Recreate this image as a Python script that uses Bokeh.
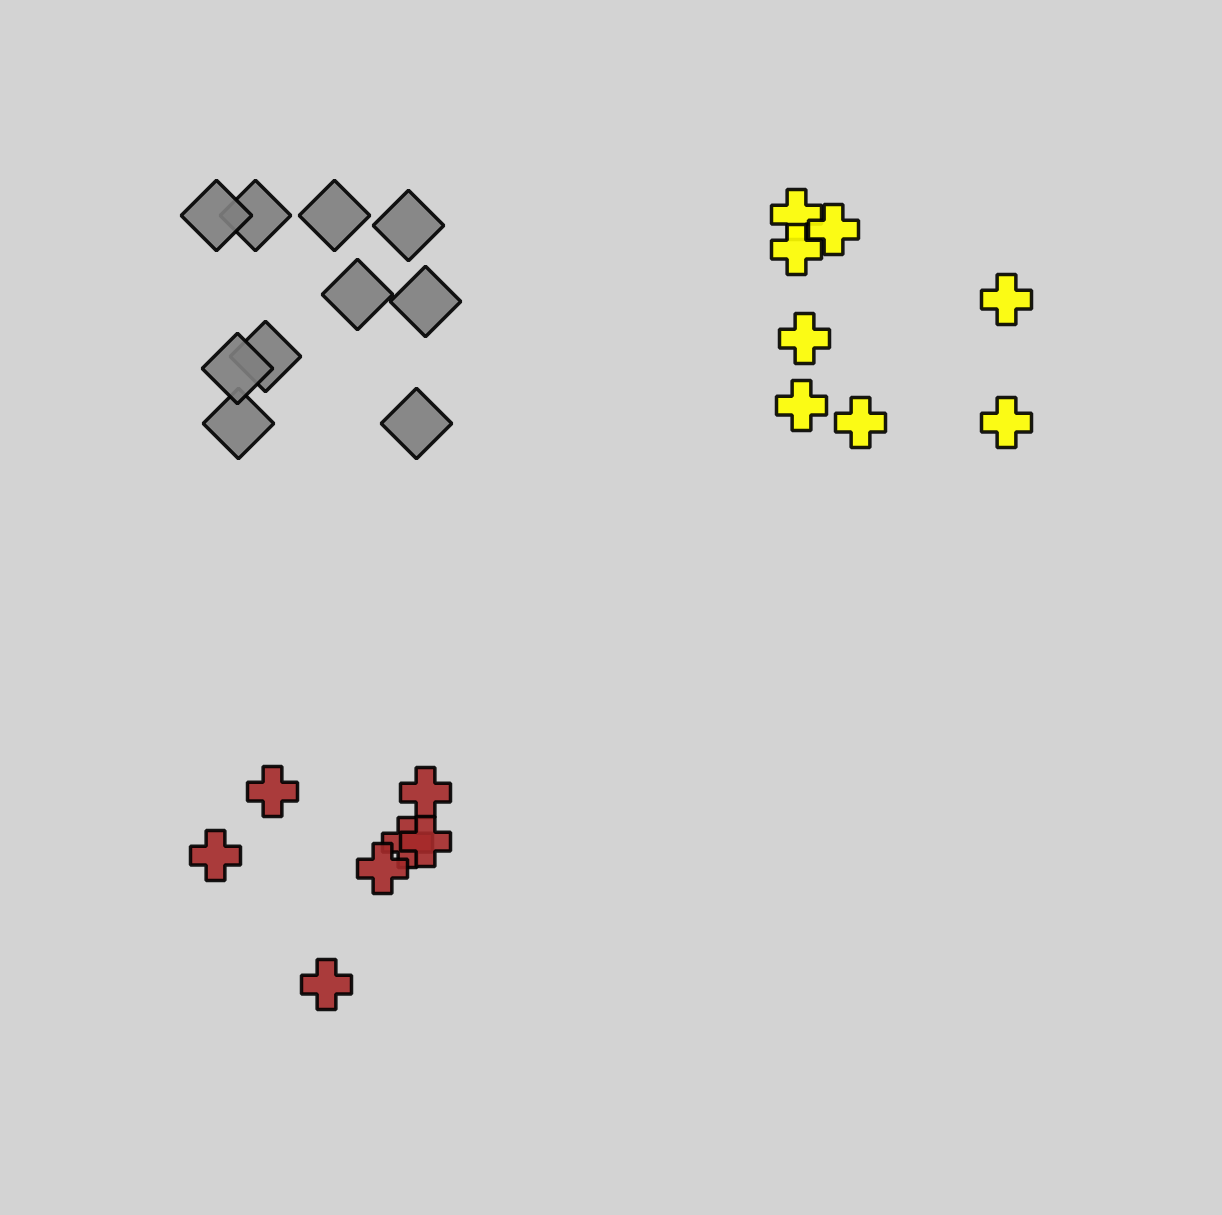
import math
from bokeh.plotting import figure
from bokeh.models import Range1d
from bokeh.embed import file_html
from bokeh.resources import INLINE

# Data (values in chart units)
gray_x = [255, 216, 334, 408, 357, 425, 265, 238, 237, 416]
gray_y = [215, 215, 215, 225, 294, 301, 356, 423, 368, 423]

yellow_x = [796, 833, 796, 1006, 804, 801, 860, 1006]
yellow_y = [214, 229, 249, 299, 338, 405, 422, 422]

red_x = [272, 425, 215, 407, 425, 382, 326]
red_y = [791, 792, 855, 842, 841, 868, 984]

p = figure(width=1222, height=1215, output_backend="svg", toolbar_location=None,
           x_range=Range1d(0, 1222), y_range=Range1d(1215, 0), min_border=0)
p.axis.visible = False
p.grid.visible = False
p.outline_line_color = None
p.background_fill_color = "#d3d3d3"
p.border_fill_color = "#d3d3d3"

p.scatter(gray_x, gray_y, marker="square", size=50, angle=math.pi / 4,
          fill_color="gray", fill_alpha=0.9, line_color="black", line_width=3.5, line_alpha=0.9)
p.scatter(yellow_x, yellow_y, marker="plus", size=50,
          fill_color="yellow", fill_alpha=0.9, line_color="black", line_width=3.5, line_alpha=0.9)
p.scatter(red_x, red_y, marker="plus", size=50,
          fill_color="brown", fill_alpha=0.9, line_color="black", line_width=3.5, line_alpha=0.9)

html = file_html(p, INLINE)
html = html.replace("<head>", "<head><style>html,body{background:#d3d3d3;margin:0;padding:0;}</style>", 1)
open("out.html", "w").write(html)
